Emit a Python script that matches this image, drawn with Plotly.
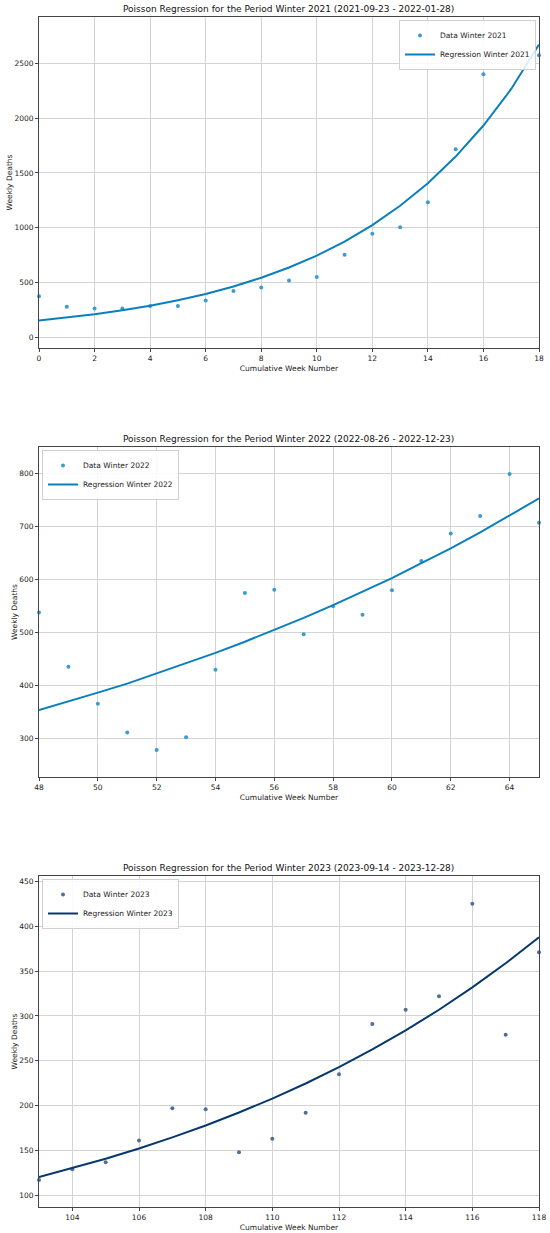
import plotly.graph_objects as go

# weeks (cumulative week number) per winter period
weeks_2021 = list(range(0, 19))
weeks_2022 = list(range(48, 66))
weeks_2023 = list(range(103, 119))

# observed weekly deaths
deaths_2021 = [372, 277, 262, 262, 285, 284, 335, 421, 454, 518, 549, 753, 945, 1003, 1232, 1716, 2402, 2570, 2576]
deaths_2022 = [537, 435, 365, 311, 278, 302, 429, 574, 580, 496, 549, 533, 579, 634, 686, 719, 798, 706]
deaths_2023 = [117, 129, 137, 161, 197, 196, 148, 163, 192, 235, 291, 307, 322, 425, 279, 371]

# fitted poisson regression values
reg_2021 = [152, 178, 209, 245, 287, 336, 394, 462, 542, 636, 745, 873, 1024, 1200, 1407, 1650, 1934, 2268, 2675]
reg_2022 = [353, 369, 386, 403, 422, 441, 461, 482, 504, 527, 551, 576, 602, 630, 658, 688, 720, 752]
reg_2023 = [120.5, 130.3, 140.8, 152.2, 164.6, 177.9, 192.3, 207.9, 224.7, 243.0, 262.6, 283.9, 306.9, 331.8, 358.7, 387.7]

titles = ["Poisson Regression for the Period Winter 2021 (2021-09-23 - 2022-01-28)",
          "Poisson Regression for the Period Winter 2022 (2022-08-26 - 2022-12-23)",
          "Poisson Regression for the Period Winter 2023 (2023-09-14 - 2023-12-28)"]
labels = ["Winter 2021", "Winter 2022", "Winter 2023"]

FONT = "DejaVu Sans"
W = 550.0
H = 1233.0

panels = [
    dict(x=weeks_2021, d=deaths_2021, r=reg_2021, line="#0a7fbd", dot="#3d9bd0",
         xr=[0, 18], yr=[-100, 2926], dy=500, x0=0, top=17, bot=348, leg="right"),
    dict(x=weeks_2022, d=deaths_2022, r=reg_2022, line="#0a7fbd", dot="#3d9bd0",
         xr=[48, 65], yr=[227, 849], dy=100, x0=48, top=447, bot=777, leg="left"),
    dict(x=weeks_2023, d=deaths_2023, r=reg_2023, line="#06386e", dot="#4f6f9a",
         xr=[103, 118], yr=[87, 456], dy=50, x0=104, top=876, bot=1207, leg="left"),
]

fig = go.Figure()
annotations = []
layout = {}
xdom = [39 / W, 539 / W]

for i, p in enumerate(panels):
    n = "" if i == 0 else str(i + 1)
    legname = "legend" + n
    fig.add_trace(go.Scatter(x=p["x"], y=p["d"], mode="markers", name="Data " + labels[i],
                             marker=dict(color=p["dot"], size=4),
                             xaxis="x" + n, yaxis="y" + n, legend=legname, cliponaxis=False))
    fig.add_trace(go.Scatter(x=p["x"], y=p["r"], mode="lines", name="Regression " + labels[i],
                             line=dict(color=p["line"], width=2),
                             xaxis="x" + n, yaxis="y" + n, legend=legname))

    ydom = [1 - p["bot"] / H, 1 - p["top"] / H]
    axstyle = dict(showline=True, mirror=True, linecolor="#444", linewidth=1,
                   ticks="outside", ticklen=3, tickcolor="#444",
                   showgrid=True, gridcolor="#d3d3d3", gridwidth=1, zeroline=False,
                   tickfont=dict(family=FONT, size=7.5, color="#222"), automargin=False)
    layout["xaxis" + n] = dict(axstyle, domain=xdom, range=p["xr"],
                               tick0=p["x0"], dtick=2, anchor="y" + n,
                               title=dict(text="Cumulative Week Number", standoff=3,
                                          font=dict(family=FONT, size=7.5, color="#222")))
    layout["yaxis" + n] = dict(axstyle, domain=ydom, range=p["yr"], dtick=p["dy"],
                               anchor="x" + n,
                               title=dict(text="Weekly Deaths", standoff=0,
                                          font=dict(family=FONT, size=7.5, color="#222")))
    if p["leg"] == "right":
        legpos = dict(x=xdom[1] - 3 / W, xanchor="right")
    else:
        legpos = dict(x=xdom[0] + 3 / W, xanchor="left")
    layout[legname] = dict(legpos, y=ydom[1] - 3 / H, yanchor="top", xref="paper", yref="paper",
                           bgcolor="rgba(255,255,255,0.85)", bordercolor="#d0d0d0", borderwidth=1,
                           font=dict(family=FONT, size=7.5, color="#222"),
                           tracegroupgap=0, itemwidth=30)
    annotations.append(dict(text=titles[i], xref="paper", yref="paper",
                            x=(xdom[0] + xdom[1]) / 2, y=ydom[1], yanchor="bottom", yshift=1,
                            xanchor="center", showarrow=False,
                            font=dict(family=FONT, size=9, color="#111")))

fig.update_layout(**layout)
fig.update_layout(width=W, height=H, margin=dict(l=0, r=0, t=0, b=0),
                  plot_bgcolor="white", paper_bgcolor="white",
                  annotations=annotations, showlegend=True,
                  font=dict(family=FONT))

# drop the default page margin so the figure fills the window exactly
fig.write_html("out.html", config={"displayModeBar": False},
               post_script="document.body.style.margin='0px';")
